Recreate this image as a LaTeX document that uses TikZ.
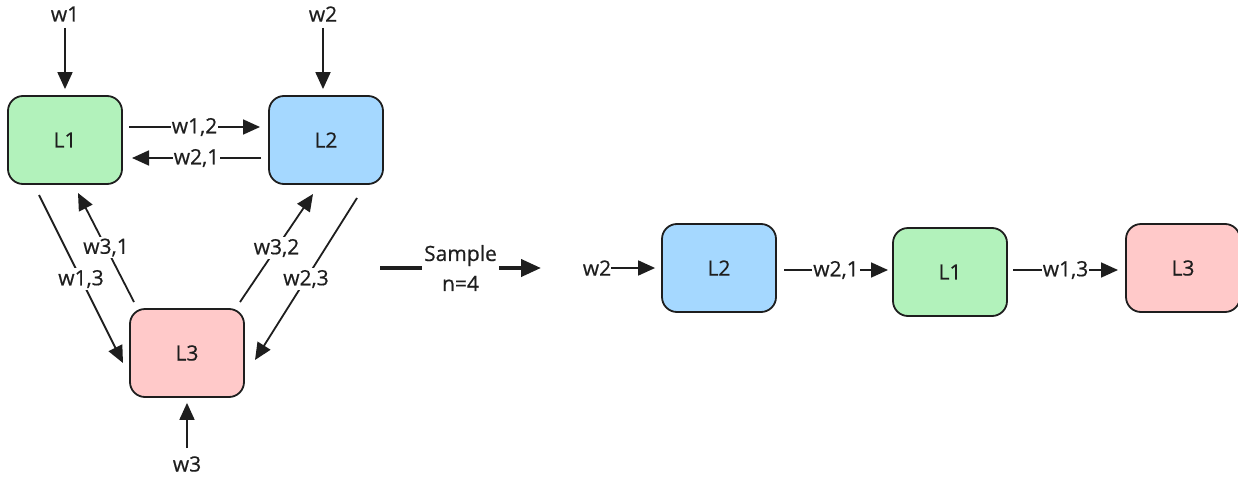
\documentclass[tikz,border=0pt]{standalone}
\usepackage{fontspec}
\setmainfont{Open Sans}[BoldFont={Open Sans}, BoldFeatures={FakeBold=0.5}]
\usetikzlibrary{arrows.meta}
\definecolor{gfill}{HTML}{B2F2BB}
\definecolor{bfill}{HTML}{A5D8FF}
\definecolor{rfill}{HTML}{FFC9C9}
\definecolor{stroke}{HTML}{1E1E1E}
\newcommand{\lblsize}{\fontsize{21}{24}\selectfont\bfseries}
\tikzset{
  box/.style={draw=stroke, line width=1.8pt, rounded corners=15pt, minimum width=114pt, minimum height=88pt, inner sep=0pt, font=\lblsize, text=stroke},
  conn/.style={draw=stroke, line width=1.8pt, -{Triangle[length=17pt,width=15pt]}},
  bigconn/.style={draw=stroke, line width=4pt, -{Triangle[length=20pt,width=17pt]}},
  lbl/.style={fill=white, inner sep=2pt, font=\lblsize, text=stroke},
}
\begin{document}
\begin{tikzpicture}[x=1pt,y=-1pt]
\useasboundingbox (0,0) rectangle (1238,476);
% left graph
\node[box, fill=gfill] (L1) at (65,140) {L1};
\node[box, fill=bfill] (L2) at (326,140) {L2};
\node[box, fill=rfill] (L3) at (187,353) {L3};
\node[lbl] (w1) at (65,14) {w1};
\node[lbl] (w2) at (323,14) {w2};
\node[lbl] (w3) at (187,464) {w3};
\coordinate (w1s) at (65,28);
\coordinate (w2s) at (323,28);
\coordinate (w3s) at (187,448);
\draw[conn] (w1s) -- ([yshift=6pt]L1.north);
\draw[conn] (w2s) -- ([yshift=6pt]L2.north -| w2s);
\draw[conn] (w3s) -- ([yshift=-5pt]L3.south);
\coordinate (a12s) at (129,127); \coordinate (a12e) at (260,127);
\coordinate (a21s) at (261,158); \coordinate (a21e) at (132,158);
\draw[conn] (a12s) -- node[lbl, inner sep=1pt]{w1,2} (a12e);
\draw[conn] (a21s) -- node[lbl, inner sep=1pt]{w2,1} (a21e);
\coordinate (a13s) at (39,195); \coordinate (a13e) at (123,363);
\coordinate (a31s) at (134,302); \coordinate (a31e) at (78,193);
\coordinate (a32s) at (240,302); \coordinate (a32e) at (313,194);
\coordinate (a23s) at (357,198); \coordinate (a23e) at (255,360);
\draw[conn] (a13s) -- node[lbl, pos=0.5]{w1,3} (a13e);
\draw[conn] (a31s) -- node[lbl, pos=0.5]{w3,1} (a31e);
\draw[conn] (a32s) -- node[lbl, pos=0.5]{w3,2} (a32e);
\draw[conn] (a23s) -- node[lbl, pos=0.5]{w2,3} (a23e);
% sample arrow
\coordinate (ss) at (380,268); \coordinate (se) at (541,268);
\draw[bigconn] (ss) -- node[lbl, align=center, font=\fontsize{21}{30}\selectfont\bfseries]{Sample\\n=4} (se);
% right chain
\node[box, fill=bfill] (R2) at (719,268) {L2};
\node[box, fill=gfill] (R1) at (950,272) {L1};
\node[box, fill=rfill] (R3) at (1183,268) {L3};
\node[lbl, inner sep=0pt] (rw2) at (597,268) {w2};
\draw[conn] (rw2) -- ([xshift=-6pt]R2.west);
\coordinate (b21s) at (784,270); \coordinate (b21e) at (888,270);
\coordinate (b13s) at (1013,270); \coordinate (b13e) at (1118,270);
\draw[conn] (b21s) -- node[lbl, inner sep=1pt]{w2,1} (b21e);
\draw[conn] (b13s) -- node[lbl, inner sep=1pt]{w1,3} (b13e);
\end{tikzpicture}
\end{document}
